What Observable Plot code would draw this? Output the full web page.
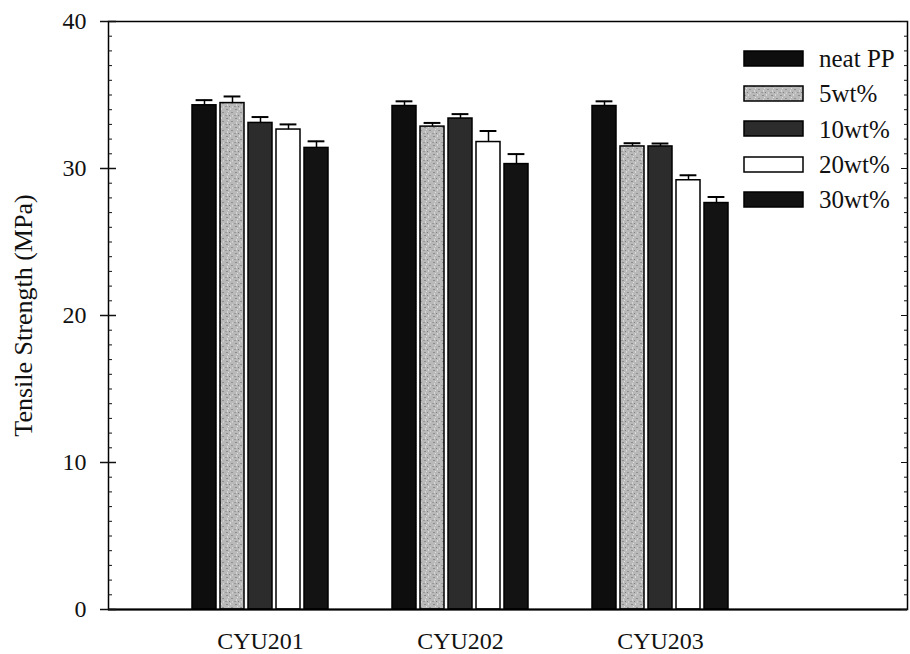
<!DOCTYPE html>
<html>
<head>
<meta charset="utf-8">
<script src="https://cdn.jsdelivr.net/npm/d3@7"></script>
<script src="https://cdn.jsdelivr.net/npm/@observablehq/plot@0.6"></script>
<style>
  body { margin: 0; background: #fff; }
  #chart { position: relative; width: 910px; height: 654px; font-family: "Liberation Serif", "Times New Roman", "DejaVu Serif", serif; color: #111; }
  #chart svg text { font-family: "Liberation Serif", "Times New Roman", "DejaVu Serif", serif; }
  #legend { position: absolute; left: 743px; top: 41px; }
  #legend .row { display: flex; align-items: center; height: 35.3px; }
  #legend .row svg { display: block; margin-right: 14px; }
  #legend .row span { font-size: 25px; line-height: 1; }
</style>
</head>
<body>
<svg width="0" height="0" style="position:absolute">
  <defs>
    <pattern id="speckle" patternUnits="userSpaceOnUse" width="9" height="9">
      <rect width="9" height="9" fill="#b9b9b9"/>
      <rect x="1" y="1" width="2" height="1" fill="#8c8c8c"/>
      <rect x="5" y="0" width="1" height="2" fill="#dadada"/>
      <rect x="6" y="4" width="2" height="1" fill="#909090"/>
      <rect x="2" y="5" width="1" height="2" fill="#d6d6d6"/>
      <rect x="0" y="7" width="2" height="1" fill="#9a9a9a"/>
      <rect x="4" y="7" width="1" height="1" fill="#7e7e7e"/>
      <rect x="7" y="7" width="1" height="2" fill="#cfcfcf"/>
      <rect x="3" y="3" width="1" height="1" fill="#e2e2e2"/>
    </pattern>
  </defs>
</svg>
<div id="chart"><div id="legend"></div></div>
<script>
// Tensile strength of PP composites by filler grade and loading
const groups = ["CYU201", "CYU202", "CYU203"];
const series = ["neat PP", "5wt%", "10wt%", "20wt%", "30wt%"];

// mean tensile strength (MPa), one entry per series
const cyu201 = [34.3, 34.45, 33.1, 32.65, 31.4];
const cyu202 = [34.25, 32.85, 33.4, 31.8, 30.3];
const cyu203 = [34.25, 31.5, 31.5, 29.2, 27.65];

// standard deviation (MPa)
const cyu201Err = [0.35, 0.45, 0.4, 0.35, 0.45];
const cyu202Err = [0.32, 0.25, 0.3, 0.75, 0.68];
const cyu203Err = [0.32, 0.22, 0.2, 0.34, 0.41];

const yMajor = [0, 10, 20, 30, 40];
const yMinor = d3.range(0, 41).filter(v => v % 10 !== 0);

const fills = ["#0e0e0e", "url(#speckle)", "#2c2c2c", "#ffffff", "#131313"];

const means = [cyu201, cyu202, cyu203];
const errs = [cyu201Err, cyu202Err, cyu203Err];

// bar layout within a group (in group units)
const step = 0.14, half = 0.06, cap = 0.042;

const rows = [];
groups.forEach((g, gi) => {
  series.forEach((s, si) => {
    const cx = gi + (si - 2) * step;
    rows.push({group: g, series: s, cx, value: means[gi][si], err: errs[gi][si]});
  });
});

const serif = "'Liberation Serif', 'Times New Roman', 'DejaVu Serif', serif";

const plot = Plot.plot({
  width: 910,
  height: 654,
  marginLeft: 108,
  marginRight: 3,
  marginTop: 21,
  marginBottom: 45,
  style: {fontFamily: serif, color: "#111", background: "#fff"},
  x: {type: "linear", domain: [-0.76, 3.235]},
  y: {domain: [0, 40]},
  color: {domain: series, range: fills},
  marks: [
    Plot.rectY(rows, {
      x1: d => d.cx - half, x2: d => d.cx + half,
      y1: 0, y2: "value",
      fill: "series", stroke: "#000", strokeWidth: 1.5
    }),
    Plot.ruleX(rows, {x: "cx", y1: "value", y2: d => d.value + d.err, stroke: "#000", strokeWidth: 1.5}),
    Plot.ruleY(rows, {y: d => d.value + d.err, x1: d => d.cx - cap, x2: d => d.cx + cap, stroke: "#000", strokeWidth: 2}),
    Plot.frame({stroke: "#000", strokeWidth: 1.5}),
    Plot.ruleY([0], {stroke: "#000", strokeWidth: 2}),
    Plot.axisY({
      ticks: yMajor, tickSize: 8, tickPadding: 14, fontSize: 24, strokeWidth: 1.5,
      label: null
    }),
    Plot.axisY({
      ticks: [], tickSize: 0, fontSize: 26,
      label: "Tensile Strength (MPa)", labelAnchor: "center", labelOffset: 95, labelArrow: "none"
    }),
    Plot.axisY({ticks: yMajor, tickSize: -8, fill: "none", label: null, strokeWidth: 1.5}),
    Plot.axisY({ticks: yMinor, tickSize: -4, fill: "none", label: null, strokeWidth: 1}),
    Plot.axisY({anchor: "right", ticks: yMinor, tickSize: -4, fill: "none", label: null, strokeWidth: 1}),
    Plot.axisY({anchor: "right", ticks: yMajor, tickSize: -7, fill: "none", label: null, strokeWidth: 1}),
    Plot.axisX({
      ticks: [0, 1, 2], tickFormat: i => groups[i], tickSize: 0, tickPadding: 22,
      fontSize: 24, label: null
    })
  ]
});

const chart = document.getElementById("chart");
chart.insertBefore(plot, chart.firstChild);

// legend
const legend = d3.select("#legend");
series.forEach((s, i) => {
  const row = legend.append("div").attr("class", "row");
  const sw = row.append("svg").attr("width", 62).attr("height", 18);
  sw.append("rect").attr("x", 1).attr("y", 1).attr("width", 59).attr("height", 15)
    .attr("fill", fills[i]).attr("stroke", "#000").attr("stroke-width", 1.5);
  row.append("span").text(s);
});
</script>
</body>
</html>
